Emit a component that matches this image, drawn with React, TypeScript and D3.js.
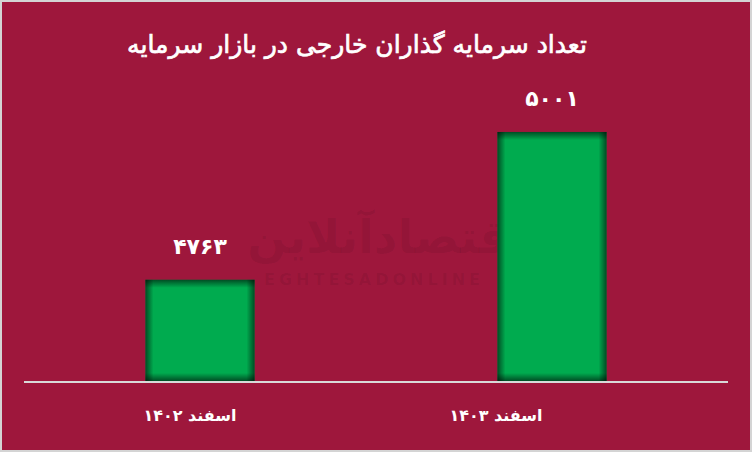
import React from "react";
import * as d3 from "d3";

const categories = ["اسفند ۱۴۰۲", "اسفند ۱۴۰۳"];
const values = [4763, 5001];
const valueLabels = ["۴۷۶۳", "۵۰۰۱"];
const title = "تعداد سرمایه گذاران خارجی  در بازار سرمایه";

const W = 752;
const H = 452;

export default function App() {
  const x = d3.scaleBand<string>().domain(categories).range([24, 728]).paddingInner(0.69).paddingOuter(0.345);
  const xLabel = d3.scalePoint<string>().domain(categories).range([190, 496]);
  const y = d3.scaleLinear().domain([4600, 5100]).range([381, 70.5]);
  const base = y(4600);
  const edge = 8;

  return (
    <svg width={W} height={H} style={{ position: "absolute", left: 0, top: 0 }} fontFamily="DejaVu Sans" >
      <defs>
        {values.map((v, i) => {
          const h = base - y(v);
          const bw = x.bandwidth();
          return (
            <React.Fragment key={i}>
              <linearGradient id={`gh${i}`} x1="0" x2="1" y1="0" y2="0">
                <stop offset={0} stopColor="#000" stopOpacity={0.55} />
                <stop offset={edge / bw} stopColor="#000" stopOpacity={0} />
                <stop offset={1 - edge / bw} stopColor="#000" stopOpacity={0} />
                <stop offset={1} stopColor="#000" stopOpacity={0.55} />
              </linearGradient>
              <linearGradient id={`gv${i}`} x1="0" x2="0" y1="0" y2="1">
                <stop offset={0} stopColor="#000" stopOpacity={0.55} />
                <stop offset={edge / h} stopColor="#000" stopOpacity={0} />
                <stop offset={1 - edge / h} stopColor="#000" stopOpacity={0} />
                <stop offset={1} stopColor="#000" stopOpacity={0.55} />
              </linearGradient>
            </React.Fragment>
          );
        })}
      </defs>
      <rect x={0} y={0} width={W} height={H} fill="#d4d4d4" />
      <rect x={2} y={2} width={W - 4} height={H - 4} fill="#9e173c" />
      <text x={386} y={253} textAnchor="middle" fontSize={46} fontWeight="bold" fill="#000" fillOpacity={0.07} direction="rtl">اقتصادآنلاین</text>
      <text x={374} y={285} textAnchor="middle" fontSize={16} fontWeight="bold" fill="#000" fillOpacity={0.07} letterSpacing={4}>EGHTESADONLINE</text>
      <text x={357} y={53} textAnchor="middle" fontSize={25} fontWeight="normal" fill="#fff" stroke="#fff" strokeWidth={0.7} direction="rtl">{title}</text>
      {values.map((v, i) => {
        const bx = x(categories[i])!;
        const by = y(v);
        const bw = x.bandwidth();
        const bh = base - by;
        return (
          <g key={i}>
            <rect x={bx} y={by} width={bw} height={bh} fill="#00ab4f" />
            <rect x={bx} y={by} width={bw} height={bh} fill={`url(#gh${i})`} />
            <rect x={bx} y={by} width={bw} height={bh} fill={`url(#gv${i})`} />
            <text x={bx + bw / 2} y={by - 26} textAnchor="middle" fontSize={22} fontWeight="bold" fill="#fff">{valueLabels[i]}</text>
          </g>
        );
      })}
      <line x1={24} x2={728} y1={382} y2={382} stroke="#d9d9d9" strokeWidth={2} />
      {categories.map((c, i) => (
        <text key={c} x={xLabel(c)} y={421} textAnchor="middle" fontSize={16} fontWeight="bold" fill="#fff" direction="rtl">{c}</text>
      ))}
    </svg>
  );
}
